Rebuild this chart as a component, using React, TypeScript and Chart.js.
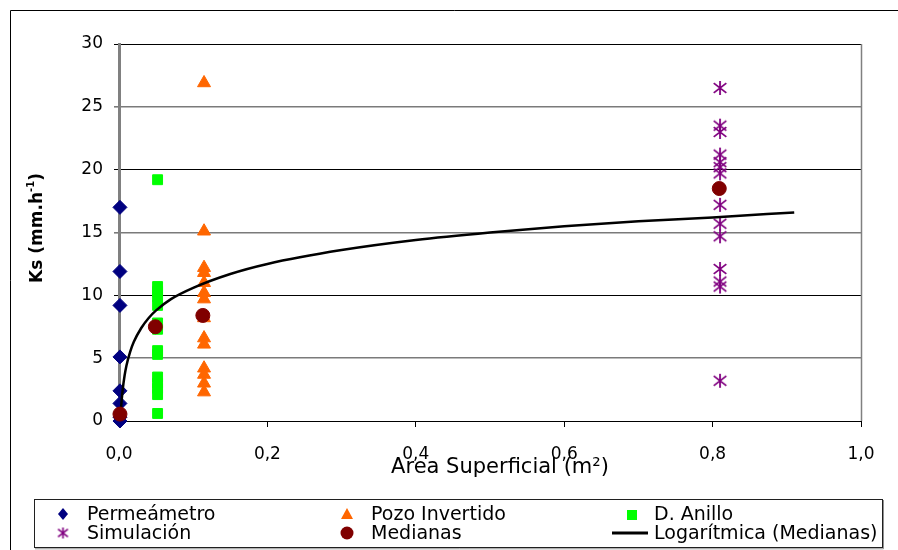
import React, { useEffect, useRef } from 'react';
import { Chart, registerables } from 'chart.js';

Chart.register(...registerables);

// ---------- DATA ----------
const permeametroX = 0.0013;
const permeametroKs = [17.0, 11.9, 9.2, 5.1, 2.4, 1.4, 0.3, 0.0];

const pozoX = 0.1146;
const pozoKs = [26.9, 15.1, 12.2, 11.8, 11.0, 10.2, 9.7, 8.2, 6.6, 6.1, 4.2, 3.7, 3.0, 2.3];

const anilloX = 0.052;
const anilloKs = [19.2, 10.7, 10.3, 9.9, 9.2, 7.8, 7.3, 5.6, 5.3, 3.5, 3.0, 2.6, 2.1, 0.6];

const simulacionX = 0.81;
const simulacionKs = [26.5, 23.5, 23.0, 21.2, 20.6, 20.2, 19.7, 17.2, 15.7, 14.7, 12.1, 11.1, 10.7, 3.2];

const medianasX = [0.0013, 0.049, 0.113, 0.809];
const medianasKs = [0.55, 7.5, 8.4, 18.5];

// trend line
const trendX = [0.002, 0.003, 0.005, 0.0075, 0.01, 0.015, 0.02, 0.03, 0.04, 0.05, 0.07, 0.1, 0.15, 0.2, 0.3, 0.4, 0.5, 0.6, 0.7, 0.8, 0.91];
const trendKs = [0.1, 1.2, 2.5, 3.6, 4.4, 5.5, 6.3, 7.4, 8.2, 8.8, 9.7, 10.6, 11.7, 12.5, 13.6, 14.4, 15.0, 15.5, 15.9, 16.2, 16.6];

const xTitle = 'Area Superficial (m²)';
const yTitleMain = 'Ks (mm.h';
const yTitleSup = '-1';
const legendLabels = ['Permeámetro', 'Pozo Invertido', 'D. Anillo', 'Simulación', 'Medianas', 'Logarítmica (Medianas)'];

const FONT = "'DejaVu Sans', sans-serif";
const NAVY = '#000080';
const ORANGE = '#FF6600';
const GREEN = '#00FF00';
const PURPLE = '#800080';
const MAROON = '#800000';

function makeAsterisk(size: number, color: string, lw: number) {
  const c = document.createElement('canvas');
  c.width = size;
  c.height = size;
  const g = c.getContext('2d')!;
  g.strokeStyle = color;
  g.lineWidth = lw;
  const m = size / 2;
  const r = size / 2 - 1;
  g.beginPath();
  g.moveTo(m, m - r);
  g.lineTo(m, m + r);
  g.moveTo(m - r * 0.9, m - r * 0.7);
  g.lineTo(m + r * 0.9, m + r * 0.7);
  g.moveTo(m - r * 0.9, m + r * 0.7);
  g.lineTo(m + r * 0.9, m - r * 0.7);
  g.stroke();
  return c;
}

const decorPlugin = {
  id: 'decor',
  beforeDatasetsDraw(chart: any) {
    const ctx = chart.ctx;
    const a = chart.chartArea;
    ctx.save();
    ctx.strokeStyle = '#808080';
    ctx.lineWidth = 1.5;
    ctx.beginPath();
    ctx.moveTo(Math.round(a.right) + 0.5, a.top);
    ctx.lineTo(Math.round(a.right) + 0.5, a.bottom);
    ctx.stroke();
    ctx.restore();
  },
  afterDraw(chart: any) {
    const ctx = chart.ctx;
    const a = chart.chartArea;
    ctx.save();
    // outer frame
    ctx.strokeStyle = '#000';
    ctx.lineWidth = 1;
    ctx.beginPath();
    ctx.moveTo(10.5, 550);
    ctx.lineTo(10.5, 10.5);
    ctx.lineTo(898, 10.5);
    ctx.stroke();

    // x title
    ctx.fillStyle = '#000';
    ctx.font = `21px ${FONT}`;
    ctx.textAlign = 'center';
    ctx.textBaseline = 'middle';
    ctx.fillText(xTitle, (a.left + a.right) / 2 + 10, 468);

    // y title (rotated)
    ctx.save();
    ctx.translate(42, 228);
    ctx.rotate(-Math.PI / 2);
    ctx.font = `bold 17px ${FONT}`;
    const wMain = ctx.measureText(yTitleMain).width;
    ctx.font = `bold 10px ${FONT}`;
    const wSup = ctx.measureText(yTitleSup).width;
    ctx.font = `bold 17px ${FONT}`;
    const wClose = ctx.measureText(')').width;
    const total = wMain + wSup + wClose;
    let x0 = -total / 2;
    ctx.textAlign = 'left';
    ctx.textBaseline = 'alphabetic';
    ctx.fillText(yTitleMain, x0, 0);
    x0 += wMain;
    ctx.font = `bold 10px ${FONT}`;
    ctx.fillText(yTitleSup, x0, -8);
    x0 += wSup;
    ctx.font = `bold 17px ${FONT}`;
    ctx.fillText(')', x0, 0);
    ctx.restore();

    // legend box
    ctx.strokeStyle = '#202020';
    ctx.lineWidth = 1;
    ctx.strokeRect(34.5, 499.5, 848, 48);
    ctx.strokeStyle = '#909090';
    ctx.beginPath();
    ctx.moveTo(35, 548.8);
    ctx.lineTo(883.5, 548.8);
    ctx.lineTo(883.5, 500);
    ctx.stroke();

    const rows = [514, 533];
    const markX = [63, 347, 632];
    const textX = [87, 371, 654];
    ctx.font = `19px ${FONT}`;
    ctx.textAlign = 'left';
    ctx.textBaseline = 'middle';
    legendLabels.forEach((lab, i) => {
      const col = i % 3;
      const row = Math.floor(i / 3);
      ctx.fillStyle = '#000';
      ctx.fillText(lab, textX[col], rows[row] + 1);
    });
    const mx = markX, ry = rows;
    // diamond
    ctx.fillStyle = NAVY;
    ctx.beginPath();
    ctx.moveTo(mx[0], ry[0] - 6);
    ctx.lineTo(mx[0] + 5, ry[0]);
    ctx.lineTo(mx[0], ry[0] + 6);
    ctx.lineTo(mx[0] - 5, ry[0]);
    ctx.closePath();
    ctx.fill();
    // triangle
    ctx.fillStyle = ORANGE;
    ctx.beginPath();
    ctx.moveTo(mx[1], ry[0] - 6);
    ctx.lineTo(mx[1] + 6, ry[0] + 5);
    ctx.lineTo(mx[1] - 6, ry[0] + 5);
    ctx.closePath();
    ctx.fill();
    // square
    ctx.fillStyle = GREEN;
    ctx.fillRect(mx[2] - 5, ry[0] - 4, 10, 10);
    // asterisk
    const ast = makeAsterisk(13, PURPLE, 1.6);
    ctx.drawImage(ast, mx[0] - 6.5, ry[1] - 6.5);
    // circle
    ctx.fillStyle = MAROON;
    ctx.beginPath();
    ctx.arc(mx[1], ry[1], 6.5, 0, Math.PI * 2);
    ctx.fill();
    // line
    ctx.strokeStyle = '#000';
    ctx.lineWidth = 3;
    ctx.beginPath();
    ctx.moveTo(612, ry[1]);
    ctx.lineTo(648, ry[1]);
    ctx.stroke();
    ctx.restore();
  },
};

export default function App() {
  const ref = useRef<HTMLCanvasElement | null>(null);
  useEffect(() => {
    if (!ref.current) return;
    const asterisk = makeAsterisk(16, PURPLE, 1.8);
    const pts = (x: number, ys: number[]) => ys.map((y) => ({ x, y }));
    const chart = new Chart(ref.current, {
      type: 'scatter',
      data: {
        datasets: [
          {
            label: legendLabels[4],
            data: medianasX.map((x, i) => ({ x, y: medianasKs[i] })),
            pointStyle: 'circle',
            pointRadius: 7,
            backgroundColor: MAROON,
            borderColor: MAROON,
            clip: false,
            order: 0,
          },
          {
            type: 'line',
            label: legendLabels[5],
            data: trendX.map((x, i) => ({ x, y: trendKs[i] })),
            borderColor: '#000',
            borderWidth: 2.5,
            pointRadius: 0,
            fill: false,
            cubicInterpolationMode: 'monotone',
            order: 1,
          },
          {
            label: legendLabels[0],
            data: pts(permeametroX, permeametroKs),
            pointStyle: 'rectRot',
            pointRadius: 7,
            backgroundColor: NAVY,
            borderColor: NAVY,
            clip: false,
            order: 2,
          },
          {
            label: legendLabels[1],
            data: pts(pozoX, pozoKs),
            pointStyle: 'triangle',
            pointRadius: 7.5,
            backgroundColor: ORANGE,
            borderColor: ORANGE,
            clip: false,
            order: 3,
          },
          {
            label: legendLabels[2],
            data: pts(anilloX, anilloKs),
            pointStyle: 'rect',
            pointRadius: 7,
            backgroundColor: GREEN,
            borderColor: GREEN,
            clip: false,
            order: 4,
          },
          {
            label: legendLabels[3],
            data: pts(simulacionX, simulacionKs),
            pointStyle: asterisk as any,
            pointRadius: 8,
            backgroundColor: PURPLE,
            borderColor: PURPLE,
            clip: false,
            order: 5,
          },
        ] as any,
      },
      options: {
        responsive: false,
        animation: false,
        layout: { padding: { left: 0, top: 44, right: 37, bottom: 0 } },
        plugins: {
          legend: { display: false },
          tooltip: { enabled: false },
        },
        scales: {
          x: {
            type: 'linear',
            min: 0,
            max: 1,
            afterFit: (s: any) => {
              s.height = 129;
            },
            ticks: {
              stepSize: 0.2,
              color: '#000',
              font: { family: FONT, size: 17 },
              padding: 17,
              maxRotation: 0,
              callback: (v: any) => Number(v).toFixed(1).replace('.', ','),
            },
            grid: {
              display: true,
              drawOnChartArea: false,
              drawTicks: true,
              tickLength: 6,
              color: '#000',
            },
            border: { color: '#000', width: 1 },
            title: { display: false },
          },
          y: {
            type: 'linear',
            min: 0,
            max: 30,
            afterFit: (s: any) => {
              s.width = 119;
            },
            ticks: {
              stepSize: 5,
              color: '#000',
              font: { family: FONT, size: 17 },
              padding: 11,
            },
            grid: {
              color: (c: any) => (c.tick && c.tick.value % 10 === 5 ? '#7a7a7a' : '#000'),
              lineWidth: (c: any) => (c.tick && c.tick.value % 10 === 5 ? 1.6 : 1),
              tickLength: 5,
            },
            border: { color: '#808080', width: 3 },
            title: { display: false },
          },
        },
      },
      plugins: [decorPlugin],
    } as any);
    return () => chart.destroy();
  }, []);
  return (
    <div style={{ position: 'fixed', left: 0, top: 0, width: 898, height: 550, background: '#fff' }}>
      <canvas ref={ref} width={898} height={550} style={{ display: 'block' }} />
    </div>
  );
}
